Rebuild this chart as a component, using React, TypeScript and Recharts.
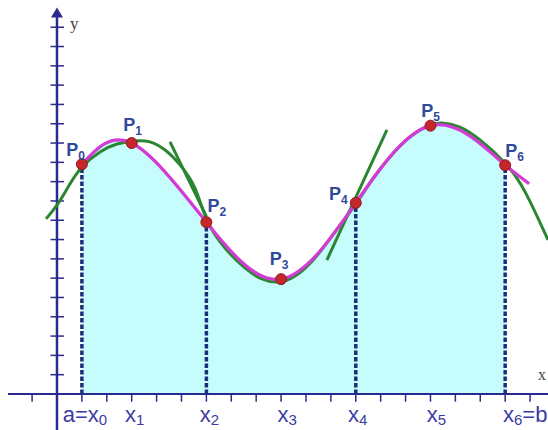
import React from 'react';
import { ComposedChart, Area, Line, Scatter, XAxis, YAxis, ReferenceLine, ReferenceDot } from 'recharts';

// plot window in axis units (1 unit = one tick)
const X_MIN = -2.289;
const X_MAX = 19.72;
const Y_MIN = -1.865;
const Y_MAX = 20.41;

// interpolation nodes P0..P6
const nodeX = [1, 3, 6, 9, 12, 15, 18];
const nodeY = [11.9, 13, 8.9, 5.95, 9.9, 13.9, 11.85];
const nodeNames = ['0', '1', '2', '3', '4', '5', '6'];

// the function f(x) being approximated
const curveX = [-0.44, -0.2, 0.1, 0.52, 1.04, 1.73, 2.41, 3.13, 3.73, 4.34, 4.94, 5.54, 6.02, 6.75, 7.55, 8.23, 8.88, 9.56, 10.36, 11.16, 11.97, 12.65, 13.37, 14.18, 14.9, 15.46, 16.18, 16.99, 17.99, 18.8, 19.72];
const curveY = [9.07, 9.45, 9.98, 10.88, 11.81, 12.54, 12.95, 13.11, 13.06, 12.64, 11.87, 10.67, 9.02, 7.56, 6.53, 5.96, 5.8, 6.11, 7.05, 8.39, 9.79, 11.09, 12.28, 13.32, 13.89, 14.04, 13.83, 13.16, 11.97, 10.47, 7.98];

// tangent segments near P2 and P4
const tangentAX = [4.54, 6.0];
const tangentAY = [13.06, 9.2];
const tangentBX = [10.84, 13.25];
const tangentBY = [6.94, 13.68];

// last parabola runs a little past P6
const tailX = [18, 18.96];
const tailY = [11.85, 10.89];

const dashedNodes = [0, 2, 4, 6];

const xTickValues = [-1, 1, 2, 3, 4, 5, 6, 7, 8, 9, 10, 11, 12, 13, 14, 15, 16, 17, 18, 19];
const yTickValues = [1, 2, 3, 4, 5, 6, 7, 8, 9, 10, 11, 12, 13, 14, 15, 16, 17, 18, 19];

const xLabelAt = [1, 3, 6, 9, 12, 15, 18];
const xLabelMain = ['a=x', 'x', 'x', 'x', 'x', 'x', 'x'];
const xLabelSub = ['0', '1', '2', '3', '4', '5', '6'];
const xLabelAfter = ['', '', '', '', '', '', '=b'];

// pixel offsets for the labels
const xLabelDx = [3, 3, 3, 6, 2, 6, 20];
const nodeLabelLayout = [
  { dx: 3, dy: -8, anchor: 'end' },
  { dx: 1, dy: -12, anchor: 'middle' },
  { dx: 1, dy: -10, anchor: 'start' },
  { dx: -2, dy: -14, anchor: 'middle' },
  { dx: -8, dy: -3, anchor: 'end' },
  { dx: 0, dy: -9, anchor: 'middle' },
  { dx: 0, dy: -8, anchor: 'start' },
];

const toPoints = (xs: number[], ys: number[]) => xs.map((x, i) => ({ x, y: ys[i] }));

const nodes = nodeX.map((x, i) => ({ x, y: nodeY[i], name: nodeNames[i], idx: i }));
const curve = toPoints(curveX, curveY);
const tangentA = toPoints(tangentAX, tangentAY);
const tangentB = toPoints(tangentBX, tangentBY);
const tail = toPoints(tailX, tailY);

const AXIS = '#2b2b8f';
const GREEN = '#2a8632';
const MAGENTA = '#d43ad6';
const FILL = '#c6fcfc';
const DASH = '#1c2f7a';
const LABEL = '#2f4a9c';
const TICK_LABEL = '#3b3ba2';
const FONT = '"Liberation Sans", Arial, sans-serif';

const NodeDot = (props: any) => {
  const { cx, cy, payload } = props;
  const lay = nodeLabelLayout[payload.idx];
  return (
    <g>
      <circle cx={cx} cy={cy} r={5.5} fill="#c4262b" stroke="#8e1b1e" strokeWidth={1} />
      <text
        x={cx + lay.dx}
        y={cy + lay.dy}
        textAnchor={lay.anchor}
        fontFamily={FONT}
        fontWeight="bold"
        fontSize={18}
        fill={LABEL}
      >
        P<tspan fontSize={12} dy={4}>{payload.name}</tspan>
      </text>
    </g>
  );
};

const lineProps = {
  dataKey: 'y',
  dot: false,
  activeDot: false,
  isAnimationActive: false,
};

export default function App() {
  return (
    <div style={{ position: 'absolute', left: 0, top: 0, width: 548, height: 430, background: '#fff' }}>
      <ComposedChart width={548} height={430} margin={{ top: 0, right: 0, bottom: 0, left: 0 }}>
        <XAxis type="number" dataKey="x" domain={[X_MIN, X_MAX]} allowDataOverflow hide />
        <YAxis type="number" dataKey="y" domain={[Y_MIN, Y_MAX]} allowDataOverflow hide />

        <Area
          data={nodes}
          dataKey="y"
          type="natural"
          baseValue={0}
          stroke="none"
          fill={FILL}
          fillOpacity={1}
          activeDot={false}
          isAnimationActive={false}
        />

        {/* axes */}
        <ReferenceLine segment={[{ x: -1.97, y: 0 }, { x: X_MAX, y: 0 }]} stroke={AXIS} strokeWidth={2} ifOverflow="visible" />
        <ReferenceLine segment={[{ x: 0, y: Y_MIN }, { x: 0, y: 19.6 }]} stroke={AXIS} strokeWidth={2.5} ifOverflow="visible" />
        {xTickValues.map((t) => (
          <ReferenceLine key={'xt' + t} segment={[{ x: t, y: 0 }, { x: t, y: -0.4 }]} stroke={AXIS} strokeWidth={1.5} ifOverflow="visible" />
        ))}
        {yTickValues.map((t) => (
          <ReferenceLine key={'yt' + t} segment={[{ x: -0.26, y: t }, { x: 0.28, y: t }]} stroke={AXIS} strokeWidth={1.5} ifOverflow="visible" />
        ))}
        <ReferenceDot
          x={0}
          y={19.55}
          r={0}
          ifOverflow="visible"
          shape={(p: any) => (
            <polygon points={`${p.cx},${p.cy - 9} ${p.cx - 6},${p.cy + 1} ${p.cx + 6},${p.cy + 1}`} fill={AXIS} />
          )}
        />
        <ReferenceDot
          x={0}
          y={19.55}
          r={0}
          ifOverflow="visible"
          shape={(p: any) => (
            <text x={p.cx + 13} y={p.cy + 12} fontFamily='"Liberation Serif", serif' fontSize={17} fill="#444">y</text>
          )}
        />
        <ReferenceDot
          x={X_MAX}
          y={0}
          r={0}
          ifOverflow="visible"
          shape={(p: any) => (
            <text x={p.cx - 10} y={p.cy - 14} fontFamily='"Liberation Serif", serif' fontSize={16} fill="#444">x</text>
          )}
        />

        {/* x-axis labels */}
        {xLabelAt.map((v, i) => (
          <ReferenceDot
            key={'xl' + i}
            x={v}
            y={0}
            r={0}
            ifOverflow="visible"
            shape={(p: any) => (
              <text x={p.cx + xLabelDx[i]} y={p.cy + 28} textAnchor="middle" fontFamily={FONT} fontSize={22} fill={TICK_LABEL}>
                {xLabelMain[i]}
                <tspan fontSize={15} dy={3}>{xLabelSub[i]}</tspan>
                {xLabelAfter[i] ? <tspan fontSize={22} dy={-3}>{xLabelAfter[i]}</tspan> : null}
              </text>
            )}
          />
        ))}

        {/* ordinates at the even nodes */}
        {dashedNodes.map((k) => (
          <ReferenceLine
            key={'d' + k}
            segment={[{ x: nodeX[k], y: 0 }, { x: nodeX[k], y: nodeY[k] }]}
            stroke={DASH}
            strokeWidth={3.5}
            strokeDasharray="4.5 2"
            ifOverflow="visible"
          />
        ))}

        <Line {...lineProps} data={curve} type="natural" stroke={GREEN} strokeWidth={3} />
        <Line {...lineProps} data={tangentA} type="linear" stroke={GREEN} strokeWidth={3} />
        <Line {...lineProps} data={tangentB} type="linear" stroke={GREEN} strokeWidth={3} />

        <Line {...lineProps} data={nodes} type="natural" stroke={MAGENTA} strokeWidth={3.2} />
        <Line {...lineProps} data={tail} type="linear" stroke={MAGENTA} strokeWidth={3.2} />

        <Scatter data={nodes} dataKey="y" shape={NodeDot} isAnimationActive={false} />
      </ComposedChart>
    </div>
  );
}
